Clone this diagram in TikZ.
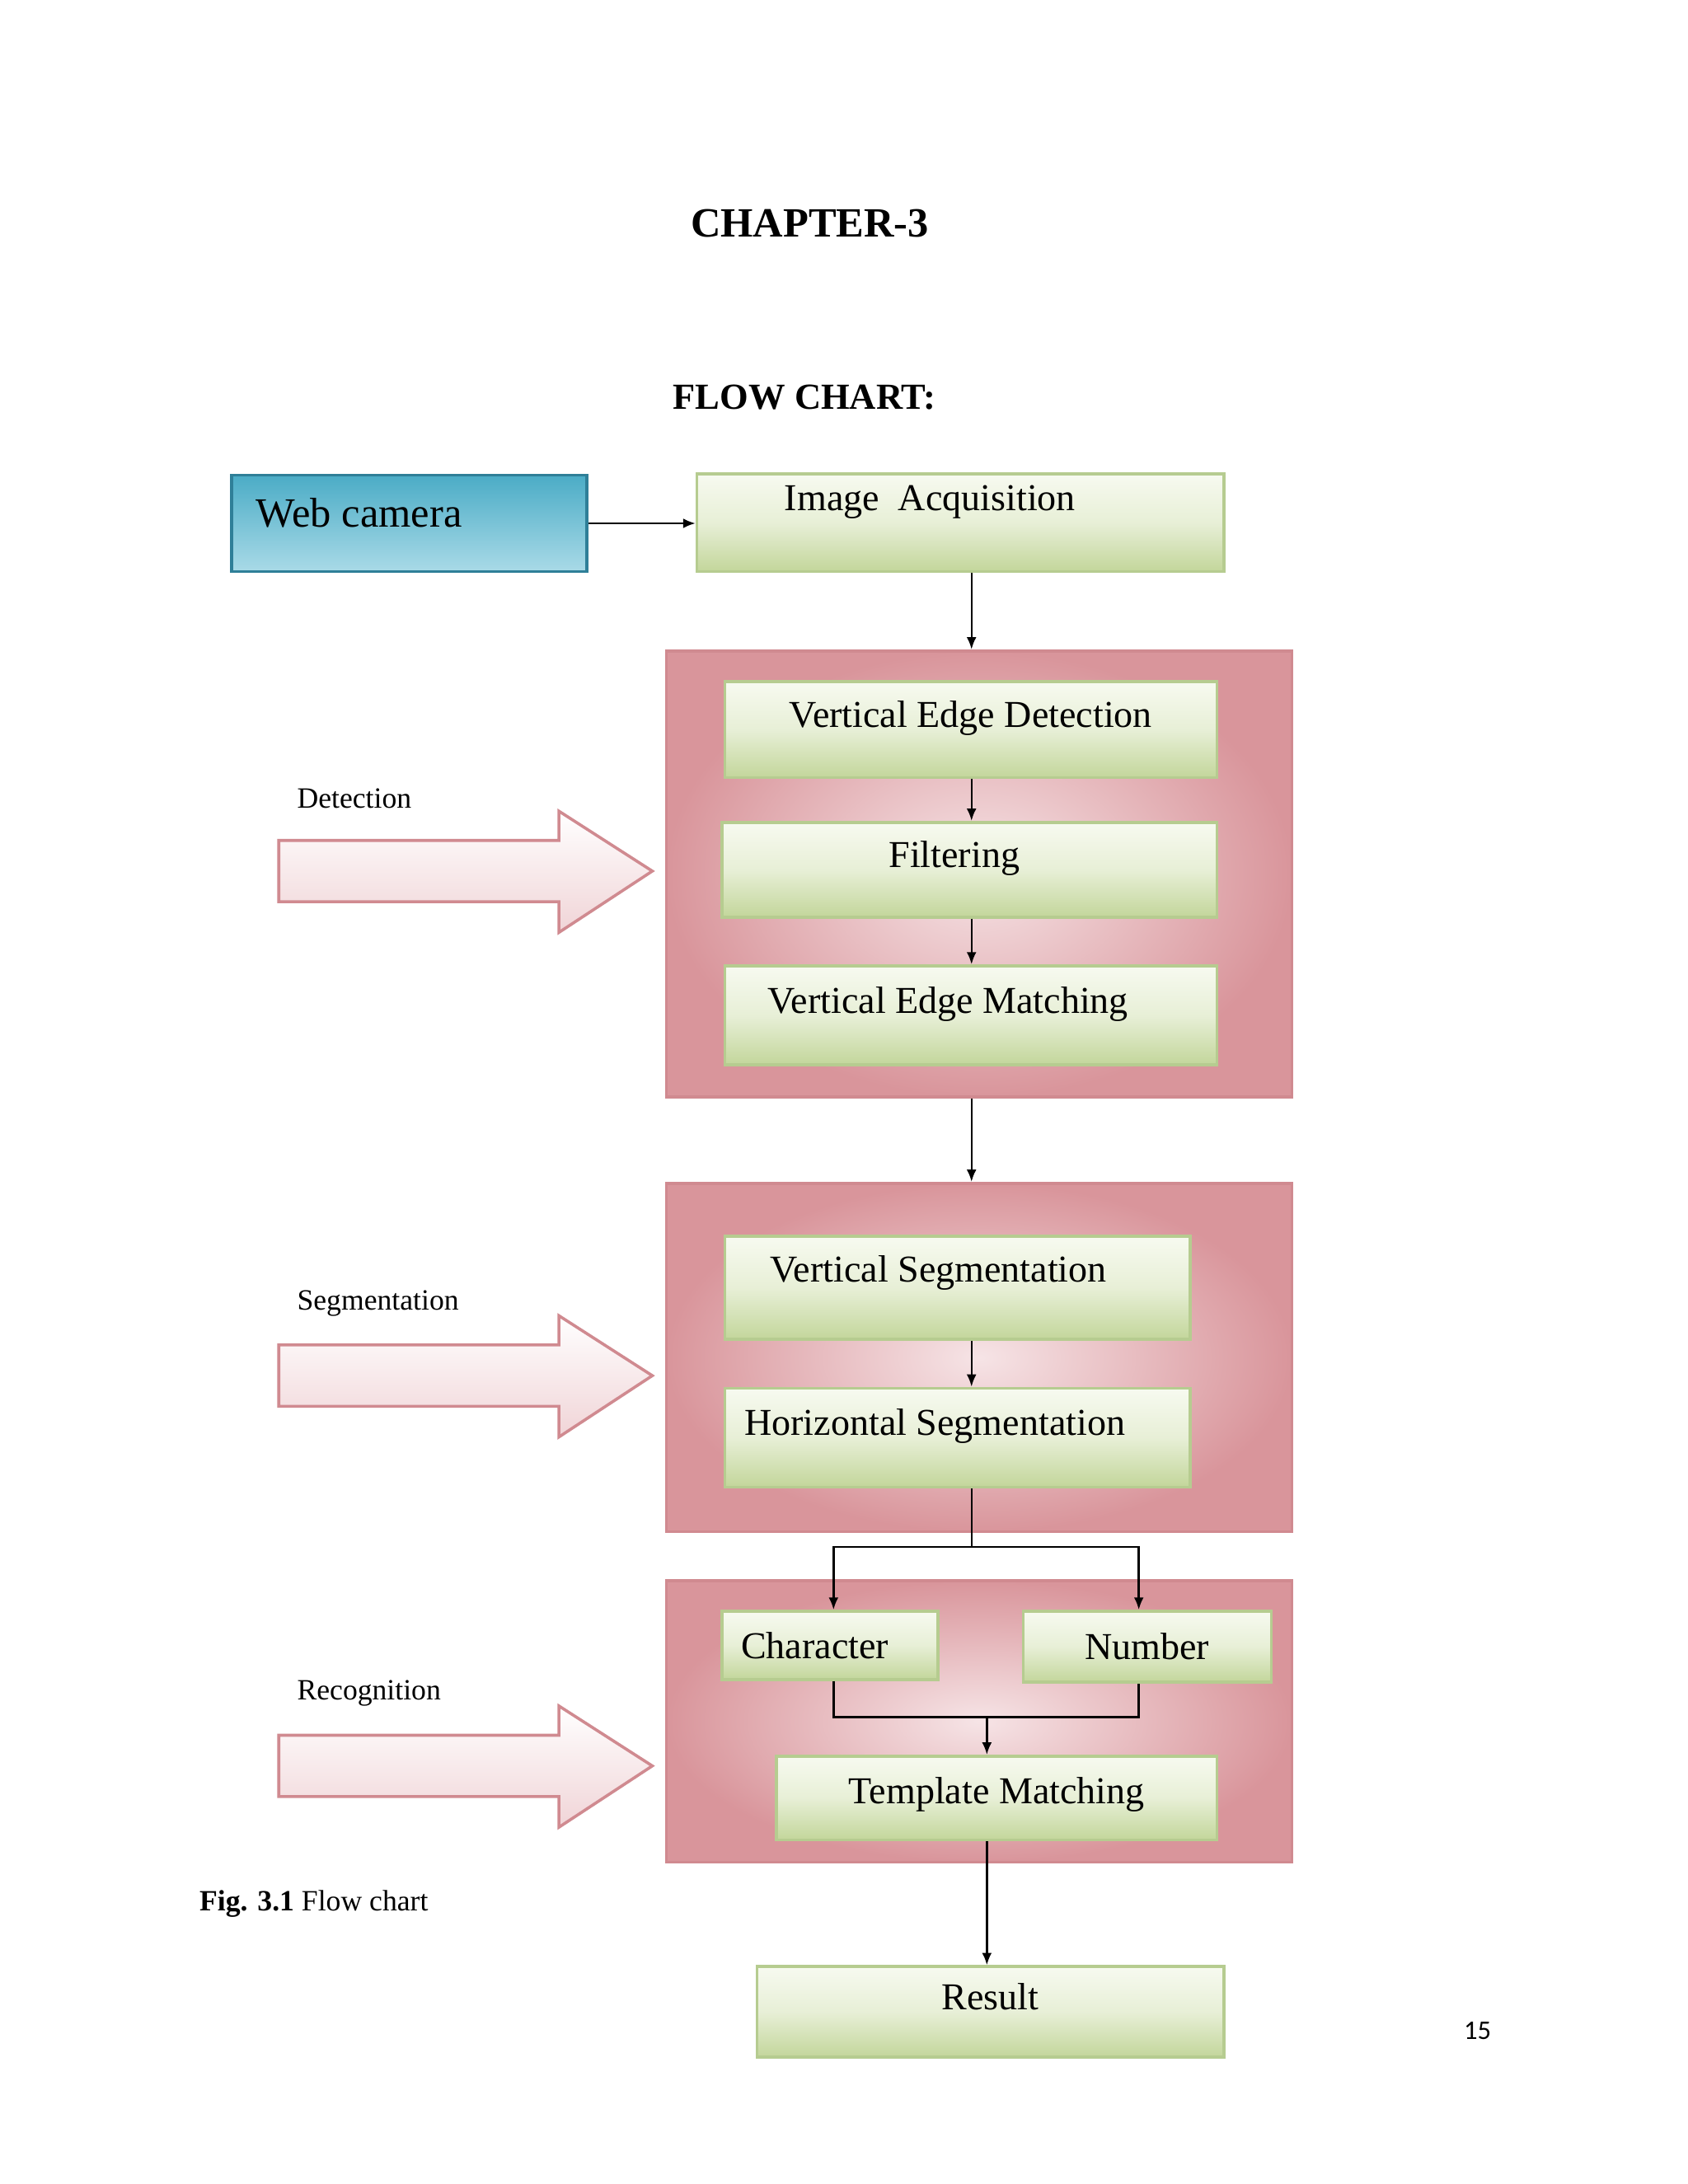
\documentclass[tikz,border=0pt]{standalone}
\usepackage{fontspec}
\setmainfont{Liberation Serif}
\newfontfamily\numfont{Carlito}
\usetikzlibrary{arrows.meta,calc}
\definecolor{gdark}{HTML}{C3D69B}
\definecolor{glight}{HTML}{F7FAF0}
\definecolor{gedge}{HTML}{B6CC90}
\definecolor{pdark}{HTML}{D9959B}
\definecolor{plight}{HTML}{F6E4E6}
\definecolor{pedge}{HTML}{D08A90}
\definecolor{bdark}{HTML}{4BACC6}
\definecolor{blight}{HTML}{A9DAE7}
\definecolor{bedge}{HTML}{2F7F98}
\begin{document}
\begin{tikzpicture}[x=0.02cm,y=-0.02cm,
  green/.style={draw=gedge, line width=1.2pt, top color=glight, bottom color=gdark, middle color=glight!70!gdark, inner sep=0pt, font=\fontsize{15.5}{18}\selectfont},
  pinkbox/.style={draw=pedge, line width=1.2pt, inner color=plight, outer color=pdark, inner sep=0pt},
  bigarrow/.style={draw=pedge, line width=1.2pt, top color=white, bottom color=plight!80!pdark},
  conn/.style={-{Latex[length=5pt,width=4pt]}, line width=0.8pt},
  lbl/.style={font=\fontsize{12}{14}\selectfont, anchor=west}]
\useasboundingbox (0,0) rectangle (1211,1567);
\fill[white] (0,0) rectangle (1211,1567);
\node[font=\bfseries\fontsize{17}{20}\selectfont] (ch) at (581,160) {CHAPTER-3};
\node[font=\bfseries\fontsize{15}{18}\selectfont] (fc) at (577,285) {FLOW CHART:};
% pink group boxes
\node[pinkbox, minimum width=449*0.02cm, minimum height=320*0.02cm] (det) at (702.5,627) {};
\node[pinkbox, minimum width=449*0.02cm, minimum height=250*0.02cm] (seg) at (702.5,974) {};
\node[pinkbox, minimum width=449*0.02cm, minimum height=202*0.02cm] (rec) at (702.5,1235) {};
% boxes
\node[draw=bedge, line width=1.2pt, top color=bdark, bottom color=blight, minimum width=255*0.02cm, minimum height=69*0.02cm, inner sep=0pt, font=\fontsize{17}{20}\selectfont] (web) at (293.5,375.5) {\raisebox{0.5em}{\hspace*{-2.4em}Web camera}};
\node[green, minimum width=378*0.02cm, minimum height=70*0.02cm] (ia) at (689,375) {\raisebox{1.3em}{Image~ Acquisition}\hspace*{1.6em}};
\node[green, minimum width=353*0.02cm, minimum height=69*0.02cm] (ved) at (696.5,523.5) {\raisebox{0.8em}{Vertical Edge Detection}};
\node[green, minimum width=355*0.02cm, minimum height=68*0.02cm] (fil) at (695.5,624) {\raisebox{0.8em}{Filtering}\hspace*{0.8em}};
\node[green, minimum width=353*0.02cm, minimum height=71*0.02cm] (vem) at (696.5,728.5) {\raisebox{0.8em}{Vertical Edge Matching}\hspace*{1.2em}};
\node[green, minimum width=334*0.02cm, minimum height=74*0.02cm] (vs) at (687,924) {\raisebox{1em}{Vertical Segmentation}\hspace*{1em}};
\node[green, minimum width=334*0.02cm, minimum height=71*0.02cm] (hs) at (687,1031.5) {\raisebox{0.8em}{Horizontal Segmentation}\hspace*{1.2em}};
\node[green, minimum width=155*0.02cm, minimum height=49*0.02cm] (chr) at (595.5,1180.5) {Character\hspace*{0.8em}};
\node[green, minimum width=178*0.02cm, minimum height=51*0.02cm] (num) at (823,1181.5) {Number};
\node[green, minimum width=316*0.02cm, minimum height=60*0.02cm] (tm) at (715,1290) {\raisebox{0.4em}{Template Matching}};
\node[green, minimum width=335*0.02cm, minimum height=65*0.02cm] (res) at (710.5,1443.5) {\raisebox{0.8em}{Result}};
% connectors
\draw[conn] (web.east) -- (ia.west|-web.east);
\draw[conn] (ia.south-|697,0) -- (det.north-|697,0);
\draw[conn] (ved.south-|697,0) -- (fil.north-|697,0);
\draw[conn] (fil.south-|697,0) -- (vem.north-|697,0);
\draw[conn] (det.south-|697,0) -- (seg.north-|697,0);
\draw[conn] (vs.south-|697,0) -- (hs.north-|697,0);
\coordinate (b) at (697,1110);
\draw[line width=0.8pt] (hs.south-|697,0) -- (b);
\draw[conn] (b) -| (chr.north-|598,0);
\draw[conn] (b) -| (num.north-|817,0);
\coordinate (m) at (708,1232);
\draw[line width=0.8pt] (chr.south-|598,0) |- (m);
\draw[line width=0.8pt] (num.south-|817,0) |- (m);
\draw[conn] (m) -- (tm.north-|708,0);
\draw[conn] (tm.south-|708,0) -- (res.north-|708,0);
% big arrows
\foreach \n/\y/\t in {a1/625/Detection, a2/987/Segmentation, a3/1267/Recognition}{
  \draw[bigarrow] (200,\y-22) -- (401,\y-22) -- (401,\y-43) -- (468,\y) -- (401,\y+44) -- (401,\y+22) -- (200,\y+22) -- cycle;
  \node[lbl] (\n) at (207,\y-52) {\t};
}
\node[anchor=west, font=\fontsize{12}{14}\selectfont] (fig) at (137,1366) {\textbf{Fig. 3.1} Flow chart};
\node[font=\numfont\fontsize{11}{13}\selectfont] (pg) at (1060,1457) {15};
\end{tikzpicture}
\end{document}
